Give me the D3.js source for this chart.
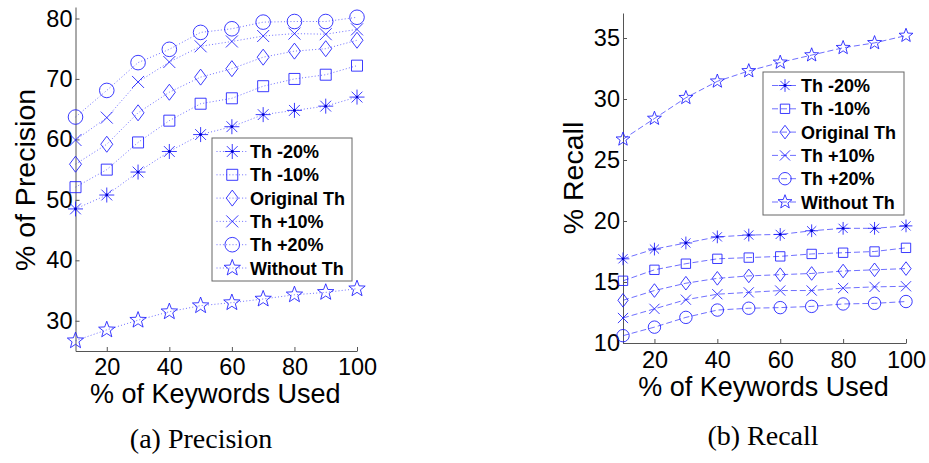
<!DOCTYPE html>
<html>
<head>
<meta charset="utf-8">
<script src="https://cdn.jsdelivr.net/npm/d3@7"></script>
<style>
  body { margin: 0; background: #fff; }
  svg { display: block; }
  .tick text { font-family: "Liberation Sans", Arial, Helvetica, sans-serif; fill: #000; }
</style>
</head>
<body>
<div id="chart"></div>
<script>
// Data
const keywordsUsed = [10, 20, 30, 40, 50, 60, 70, 80, 90, 100];
const seriesNames = ["Th -20%", "Th -10%", "Original Th", "Th +10%", "Th +20%", "Without Th"];
const markerTypes = ["asterisk", "square", "diamond", "cross", "circle", "star"];

// (a) Precision
const precThMinus20 = [48.5, 50.8, 54.6, 58.0, 60.8, 62.1, 64.1, 64.8, 65.5, 67.0];
const precThMinus10 = [52.1, 55.0, 59.5, 63.1, 65.9, 66.8, 68.8, 70.0, 70.7, 72.2];
const precOriginal  = [55.9, 59.2, 64.4, 67.8, 70.3, 71.7, 73.6, 74.6, 75.0, 76.4];
const precThPlus10  = [59.9, 63.6, 69.5, 72.8, 75.4, 76.2, 77.1, 77.5, 77.4, 78.2];
const precThPlus20  = [63.7, 68.1, 72.7, 74.9, 77.7, 78.3, 79.4, 79.5, 79.5, 80.2];
const precWithout   = [26.7, 28.5, 30.1, 31.5, 32.5, 33.0, 33.6, 34.3, 34.7, 35.3];

// (b) Recall
const recThMinus20 = [16.9, 17.7, 18.2, 18.7, 18.85, 18.9, 19.2, 19.4, 19.4, 19.6];
const recThMinus10 = [15.1, 16.0, 16.5, 16.9, 17.0, 17.1, 17.3, 17.4, 17.5, 17.8];
const recOriginal  = [13.5, 14.3, 14.9, 15.3, 15.5, 15.6, 15.7, 15.9, 16.0, 16.1];
const recThPlus10  = [12.05, 12.8, 13.55, 14.0, 14.15, 14.3, 14.3, 14.5, 14.6, 14.65];
const recThPlus20  = [10.6, 11.3, 12.1, 12.7, 12.85, 12.9, 13.0, 13.2, 13.25, 13.4];
const recWithout   = [26.7, 28.4, 30.1, 31.45, 32.3, 33.0, 33.6, 34.2, 34.6, 35.2];

const xTicks = [20, 40, 60, 80, 100];
const precisionTicks = [30, 40, 50, 60, 70, 80];
const recallTicks = [10, 15, 20, 25, 30, 35];

const svg = d3.select("#chart")
    .append("svg")
    .attr("width", 929)
    .attr("height", 463);

const sansFont = "'Liberation Sans', Arial, Helvetica, sans-serif";
const blue = "#1a1aff";

// marker shapes, drawn as outlines
function markerPath(type, k) {
    const p = d3.path();
    if (type === "circle") {
        p.moveTo(7.3 * k, 0);
        p.arc(0, 0, 7.3 * k, 0, 2 * Math.PI);
    } else if (type === "square") {
        const s = 5.5 * k;
        p.rect(-s, -s, 2 * s, 2 * s);
    } else if (type === "diamond") {
        const w = 6 * k, h = 8 * k;
        p.moveTo(0, -h); p.lineTo(w, 0); p.lineTo(0, h); p.lineTo(-w, 0); p.closePath();
    } else if (type === "cross") {
        const s = 6 * k;
        p.moveTo(-s, -s); p.lineTo(s, s);
        p.moveTo(-s, s); p.lineTo(s, -s);
    } else if (type === "asterisk") {
        const s = 7.5 * k, d = s * 0.72;
        p.moveTo(0, -s); p.lineTo(0, s);
        p.moveTo(-s, 0); p.lineTo(s, 0);
        p.moveTo(-d, -d); p.lineTo(d, d);
        p.moveTo(-d, d); p.lineTo(d, -d);
    } else if (type === "star") {
        const R = 8.6 * k, r = 3.6 * k;
        for (let i = 0; i < 10; i++) {
            const a = -Math.PI / 2 + i * Math.PI / 5;
            const rr = i % 2 === 0 ? R : r;
            if (i === 0) p.moveTo(rr * Math.cos(a), rr * Math.sin(a));
            else p.lineTo(rr * Math.cos(a), rr * Math.sin(a));
        }
        p.closePath();
    }
    return p.toString();
}

function drawMarker(g, type, x, y, k) {
    g.append("path")
        .attr("transform", `translate(${x},${y})`)
        .attr("d", markerPath(type, k))
        .attr("fill", "none")
        .attr("stroke", blue)
        .attr("stroke-opacity", 0.85)
        .attr("stroke-width", 1);
    if (type === "asterisk") {
        g.append("circle")
            .attr("cx", x).attr("cy", y).attr("r", 1.4)
            .attr("fill", "#0000cc");
    }
}

function drawPanel(cfg) {
    const g = svg.append("g");

    const x = d3.scaleLinear().domain([10, 100]).range(cfg.xRange);
    const y = d3.scaleLinear().domain(cfg.yDomain).range(cfg.yRange);

    // axes with inward ticks
    const xAxis = g.append("g")
        .attr("transform", `translate(0,${cfg.yRange[0]})`)
        .call(d3.axisBottom(x).tickValues(xTicks).tickSizeInner(-4).tickSizeOuter(0).tickPadding(cfg.xPad));
    const yAxis = g.append("g")
        .attr("transform", `translate(${cfg.xRange[0]},0)`)
        .call(d3.axisLeft(y).tickValues(cfg.yTicks).tickSizeInner(-4).tickSizeOuter(0).tickPadding(3));

    [xAxis, yAxis].forEach(a => {
        a.select(".domain").attr("stroke", "#555").attr("stroke-width", 1);
        a.selectAll(".tick line").attr("stroke", "#555");
        a.selectAll(".tick text").style("font-size", "23.5px");
    });

    // series lines and markers
    const line = d3.line()
        .x((d, i) => x(keywordsUsed[i]))
        .y(d => y(d));

    cfg.series.forEach((values, si) => {
        g.append("path")
            .datum(values)
            .attr("fill", "none")
            .attr("stroke", blue)
            .attr("stroke-opacity", 0.7)
            .attr("stroke-width", 0.9)
            .attr("stroke-dasharray", cfg.dash)
            .attr("d", line);
        values.forEach((v, i) => drawMarker(g, markerTypes[si], x(keywordsUsed[i]), y(v), cfg.markerScale));
    });

    // axis titles
    g.append("text")
        .attr("x", (cfg.xRange[0] + cfg.xRange[1]) / 2 - 1)
        .attr("y", cfg.xTitleY)
        .attr("text-anchor", "middle")
        .style("font-family", sansFont)
        .style("font-size", "27px")
        .text("% of Keywords Used");

    g.append("text")
        .attr("transform", `translate(${cfg.yTitleX},${cfg.yTitleY}) rotate(-90)`)
        .attr("text-anchor", "middle")
        .style("font-family", sansFont)
        .style("font-size", "28.5px")
        .text(cfg.yTitle);

    // legend
    const lg = g.append("g").attr("transform", `translate(${cfg.legend.x},${cfg.legend.y})`);
    lg.append("rect")
        .attr("width", cfg.legend.w)
        .attr("height", cfg.legend.h)
        .attr("fill", "#fff")
        .attr("stroke", "#666")
        .attr("stroke-width", 1);

    seriesNames.forEach((name, i) => {
        const ry = 13.5 + i * 23.3;
        lg.append("line")
            .attr("x1", cfg.legend.lineX[0]).attr("x2", cfg.legend.lineX[1])
            .attr("y1", ry).attr("y2", ry)
            .attr("stroke", blue)
            .attr("stroke-opacity", 0.7)
            .attr("stroke-width", 0.9)
            .attr("stroke-dasharray", cfg.dash);
        drawMarker(lg, markerTypes[i], (cfg.legend.lineX[0] + cfg.legend.lineX[1]) / 2, ry, cfg.markerScale);
        lg.append("text")
            .attr("x", cfg.legend.textX)
            .attr("y", ry + 6.5)
            .style("font-family", sansFont)
            .style("font-size", "18px")
            .style("font-weight", "bold")
            .text(name);
    });

    // caption
    g.append("text")
        .attr("x", cfg.captionX)
        .attr("y", cfg.captionY)
        .attr("text-anchor", "middle")
        .style("font-family", "'Liberation Serif', 'Times New Roman', serif")
        .style("font-size", "28px")
        .text(cfg.caption);
}

drawPanel({
    xRange: [75.5, 357],
    yRange: [351, 7],
    yDomain: [25, 81.9],
    yTicks: precisionTicks,
    xPad: 7,
    series: [precThMinus20, precThMinus10, precOriginal, precThPlus10, precThPlus20, precWithout],
    dash: "1,2.2",
    markerScale: 1,
    yTitle: "% of Precision",
    yTitleX: 35,
    yTitleY: 180,
    xTitleY: 403,
    legend: { x: 212, y: 138, w: 140, h: 143, lineX: [4.5, 36], textX: 38 },
    caption: "(a) Precision",
    captionX: 201,
    captionY: 448
});

drawPanel({
    xRange: [623, 906],
    yRange: [343, 13],
    yDomain: [10, 37.05],
    yTicks: recallTicks,
    xPad: 8,
    series: [recThMinus20, recThMinus10, recOriginal, recThPlus10, recThPlus20, recWithout],
    dash: "6,3",
    markerScale: 0.85,
    yTitle: "% Recall",
    yTitleX: 583,
    yTitleY: 178,
    xTitleY: 396,
    legend: { x: 763, y: 72, w: 141, h: 143, lineX: [9, 35], textX: 38 },
    caption: "(b) Recall",
    captionX: 763,
    captionY: 445
});
</script>
</body>
</html>
